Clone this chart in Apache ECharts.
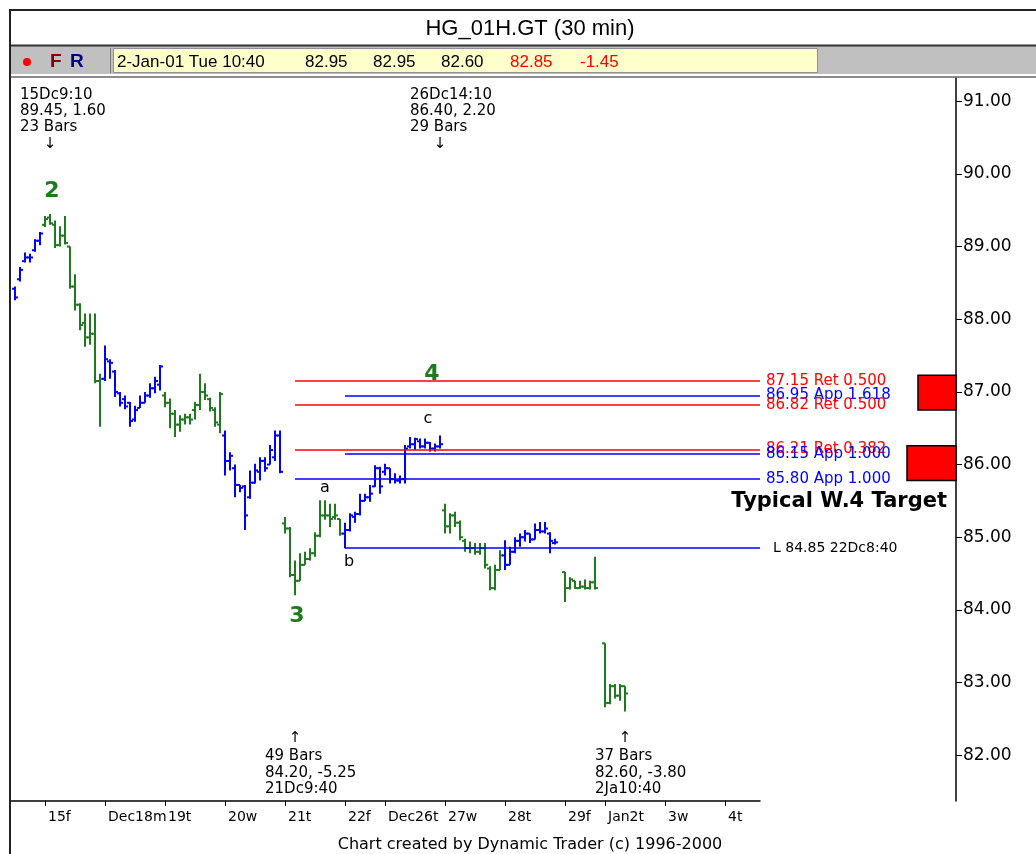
<!DOCTYPE html>
<html>
<head>
<meta charset="utf-8">
<script src="https://cdn.jsdelivr.net/npm/echarts@6/dist/echarts.min.js"></script>
<style>
  html, body { margin: 0; padding: 0; background: #fff; }
  #chart { width: 1036px; height: 854px; }
</style>
</head>
<body>
<div id="chart"></div>
<script>
// x axis: one slot per 30 min bar, ticks at the first bar of each session
const tickSlots = [7, 19, 31, 43, 55, 67, 75, 87, 99, 111, 119, 131, 143];
const tickLabels = ['15f', 'Dec18m', '19t', '20w', '21t', '22f', 'Dec26t', '27w', '28t', '29f', 'Jan2t', '3w', '4t'];

// bars per session: [open, high, low, close]
const dec14 = [[88.42, 88.45, 88.26, 88.30], [88.55, 88.72, 88.52, 88.68], [88.80, 88.92, 88.78, 88.85],
  [88.85, 88.90, 88.78, 88.85], [88.95, 89.10, 88.93, 89.08], [89.08, 89.20, 89.02, 89.18]];
const dec15 = [[89.30, 89.42, 89.27, 89.38], [89.40, 89.45, 89.30, 89.32], [89.30, 89.36, 88.98, 89.02],
  [89.02, 89.28, 89.00, 89.15], [89.15, 89.42, 89.03, 89.05], [89.00, 89.00, 88.42, 88.45],
  [88.45, 88.62, 88.12, 88.20], [88.20, 88.22, 87.85, 87.92], [87.95, 88.08, 87.62, 87.75],
  [87.75, 88.08, 87.65, 87.80], [87.80, 88.08, 87.12, 87.15], [87.15, 87.25, 86.52, 87.18]];
const dec18 = [[87.18, 87.64, 87.15, 87.45], [87.42, 87.45, 87.18, 87.40], [87.28, 87.30, 86.93, 87.00],
  [86.98, 87.00, 86.80, 86.85], [86.90, 86.95, 86.76, 86.80], [86.85, 86.86, 86.52, 86.60],
  [86.62, 86.81, 86.59, 86.75], [86.78, 86.95, 86.78, 86.85], [86.85, 87.00, 86.85, 86.95],
  [86.95, 87.12, 86.92, 87.05], [87.05, 87.21, 86.98, 87.15], [87.10, 87.37, 87.02, 87.35]];
const dec19 = [[86.95, 87.00, 86.79, 86.85], [86.85, 86.91, 86.50, 86.70], [86.70, 86.75, 86.38, 86.55],
  [86.55, 86.68, 86.45, 86.62], [86.62, 86.70, 86.55, 86.65], [86.65, 86.70, 86.55, 86.62],
  [86.75, 86.86, 86.62, 86.82], [86.82, 87.25, 86.75, 87.00], [87.00, 87.12, 86.89, 86.95],
  [86.90, 86.92, 86.73, 86.78], [86.75, 86.79, 86.52, 86.58], [86.55, 87.00, 86.43, 86.97]];
const dec20 = [[86.40, 86.47, 85.85, 86.05], [86.05, 86.17, 85.92, 86.12], [85.95, 86.00, 85.55, 85.72],
  [85.72, 85.72, 85.62, 85.68], [85.70, 85.72, 85.10, 85.30], [85.55, 85.92, 85.53, 85.75],
  [85.75, 86.01, 85.74, 85.92], [85.90, 86.10, 85.78, 86.05], [86.05, 86.10, 85.90, 85.95],
  [86.00, 86.27, 86.00, 86.20], [86.10, 86.47, 86.05, 86.40], [86.40, 86.47, 85.88, 85.90]];
const dec21 = [[85.19, 85.28, 85.05, 85.12], [85.12, 85.14, 84.45, 84.48], [84.48, 84.68, 84.20, 84.40],
  [84.40, 84.78, 84.40, 84.62], [84.62, 84.80, 84.62, 84.70], [84.70, 84.85, 84.68, 84.78],
  [84.78, 85.07, 84.73, 85.02], [85.02, 85.51, 85.00, 85.30], [85.30, 85.51, 85.24, 85.30],
  [85.30, 85.46, 85.14, 85.25], [85.28, 85.46, 85.24, 85.30], [85.25, 85.25, 85.02, 85.05]];
const dec22 = [[85.05, 85.20, 84.85, 85.10], [85.10, 85.33, 85.08, 85.30], [85.28, 85.35, 85.20, 85.32],
  [85.32, 85.60, 85.30, 85.50], [85.50, 85.60, 85.50, 85.55], [85.55, 85.72, 85.49, 85.60],
  [85.70, 85.99, 85.69, 85.95], [85.95, 85.97, 85.60, 85.70]];
const dec26 = [[85.90, 86.01, 85.85, 85.95], [85.95, 85.95, 85.74, 85.80], [85.80, 85.88, 85.74, 85.78],
  [85.78, 85.85, 85.74, 85.80], [85.80, 86.27, 85.74, 86.22], [86.25, 86.38, 86.22, 86.28],
  [86.28, 86.37, 86.20, 86.35], [86.32, 86.36, 86.22, 86.25], [86.25, 86.36, 86.22, 86.30],
  [86.30, 86.31, 86.18, 86.22], [86.22, 86.29, 86.18, 86.25], [86.25, 86.40, 86.22, 86.28]];
const dec27 = [[85.37, 85.46, 85.05, 85.15], [85.15, 85.33, 85.05, 85.30], [85.30, 85.35, 85.14, 85.20],
  [85.20, 85.23, 84.96, 85.00], [84.95, 84.98, 84.80, 84.85], [84.85, 84.94, 84.78, 84.85],
  [84.85, 84.92, 84.76, 84.80], [84.80, 84.92, 84.76, 84.85], [84.85, 84.92, 84.57, 84.62],
  [84.57, 84.60, 84.27, 84.30], [84.30, 84.62, 84.27, 84.55], [84.55, 84.82, 84.55, 84.75]];
const dec28 = [[84.75, 84.96, 84.55, 84.62], [84.62, 84.87, 84.62, 84.80], [84.80, 85.00, 84.78, 84.95],
  [84.95, 85.05, 84.87, 85.00], [85.00, 85.10, 84.94, 85.05], [85.05, 85.05, 84.92, 84.97],
  [84.97, 85.19, 84.97, 85.10], [85.10, 85.21, 85.05, 85.08], [85.08, 85.21, 85.05, 85.12],
  [85.05, 85.07, 84.78, 84.95], [84.92, 84.98, 84.90, 84.93]];
const dec29 = [[84.52, 84.52, 84.11, 84.30], [84.30, 84.45, 84.28, 84.42], [84.40, 84.40, 84.29, 84.30],
  [84.30, 84.40, 84.29, 84.32], [84.32, 84.42, 84.28, 84.30], [84.30, 84.40, 84.28, 84.38],
  [84.38, 84.73, 84.28, 84.30]];
const jan2 = [[83.54, 83.54, 82.66, 82.72], [82.72, 82.98, 82.70, 82.95], [82.95, 82.98, 82.78, 82.82],
  [82.82, 82.98, 82.75, 82.95], [82.95, 82.95, 82.60, 82.85]];

const sessions = [dec14, dec15, dec18, dec19, dec20, dec21, dec22, dec26, dec27, dec28, dec29, jan2];
const sessionStart = [1, 7, 19, 31, 43, 55, 67, 75, 87, 99, 111, 119];

// fibonacci levels
const fibPrices = [87.15, 86.95, 86.82, 86.21, 86.15, 85.80];
const fibNames = ['Ret 0.500', 'App 1.618', 'Ret 0.500', 'Ret 0.382', 'App 1.000', 'App 1.000'];
const fibFrom = [57, 67, 57, 57, 67, 57];
const lowLinePrice = 84.85;
const lowLineFrom = 67;
const lowLineText = 'L 84.85 22Dc8:40';

// target zones (low, high)
const zoneLow = [86.75, 85.78];
const zoneHigh = [87.23, 86.26];

// swing pivots
const pivotSlot = [8, 57, 86, 123];
const pivotPrice = [89.45, 84.20, 86.40, 82.60];
const pivotTime = ['15Dc9:10', '21Dc9:40', '26Dc14:10', '2Ja10:40'];
const pivotChange = ['1.60', '-5.25', '2.20', '-3.80'];
const pivotBars = [23, 49, 29, 37];

const abcNames = ['a', 'b', 'c'];
const abcSlot = [63, 67, 86];
const abcPrice = [85.51, 84.85, 86.40];

// styles
const GREEN = '#1f7a1f', BLUE = '#0000ff', RED = '#ff0000';
const sessionTone = [BLUE, GREEN, BLUE, GREEN, BLUE, GREEN, BLUE, BLUE, GREEN, BLUE, GREEN, GREEN];
const zoneWidth = [38, 49];
const FONT = '"DejaVu Sans", Verdana, sans-serif';
const Y_MIN = 81.37, Y_MAX = 91.32, SLOTS = 151;

function barsFor(tone) {
  const out = [];
  sessions.forEach((bars, s) => {
    if (sessionTone[s] !== tone) return;
    bars.forEach((b, k) => out.push([sessionStart[s] + k, ...b]));
  });
  return out;
}

function renderBar(params, api) {
  const hi = api.coord([api.value(0), api.value(2)]);
  const lo = api.coord([api.value(0), api.value(3)]);
  const o = api.coord([api.value(0), api.value(1)])[1];
  const c = api.coord([api.value(0), api.value(4)])[1];
  const style = {stroke: api.visual('color'), lineWidth: 2};
  return {
    type: 'group',
    children: [
      {type: 'line', shape: {x1: hi[0], y1: hi[1], x2: lo[0], y2: lo[1]}, style},
      {type: 'line', shape: {x1: hi[0] - 3, y1: o, x2: hi[0], y2: o}, style},
      {type: 'line', shape: {x1: hi[0], y1: c, x2: hi[0] + 3, y2: c}, style}
    ]
  };
}

function barSeries(tone) {
  return {
    type: 'custom',
    xAxisIndex: 0,
    yAxisIndex: 0,
    renderItem: renderBar,
    itemStyle: {color: tone},
    encode: {x: 0, y: [1, 2, 3, 4]},
    data: barsFor(tone),
    silent: true
  };
}

const fibLines = fibPrices.map((p, k) => {
  const tone = fibNames[k].startsWith('Ret') ? RED : BLUE;
  return [
    {coord: [fibFrom[k], p], lineStyle: {color: tone},
      label: {color: tone, formatter: p.toFixed(2) + ' ' + fibNames[k]}},
    {coord: [SLOTS - 1, p]}
  ];
});
fibLines.push([
  {coord: [lowLineFrom, lowLinePrice], lineStyle: {color: BLUE},
    label: {color: '#000', formatter: lowLineText, distance: 13, fontSize: 14}},
  {coord: [SLOTS - 1, lowLinePrice]}
]);

const chart = echarts.init(document.getElementById('chart'));
chart.setOption({
  animation: false,
  backgroundColor: '#fff',
  grid: [
    {left: 10, top: 78, width: 750, height: 723},
    {left: 10, top: 78, right: 80, height: 723}
  ],
  xAxis: [
    {
      type: 'category',
      gridIndex: 0,
      data: Array.from({length: SLOTS}, (_, i) => String(i)),
      boundaryGap: false,
      axisLine: {onZero: false, lineStyle: {color: '#000', width: 1.5}},
      axisTick: {interval: (i) => tickSlots.includes(i), length: 5, lineStyle: {color: '#000'}},
      axisLabel: {
        interval: (i) => tickSlots.includes(i),
        formatter: (v) => tickLabels[tickSlots.indexOf(Number(v))] || '',
        align: 'left',
        padding: [0, 0, 0, 3],
        margin: 9,
        color: '#000',
        fontFamily: FONT,
        fontSize: 14
      },
      splitLine: {show: false}
    },
    {type: 'value', gridIndex: 1, min: 0, max: 1, show: false}
  ],
  yAxis: [
    {type: 'value', gridIndex: 0, min: Y_MIN, max: Y_MAX, show: false},
    {
      type: 'value',
      gridIndex: 1,
      position: 'right',
      min: Y_MIN,
      max: Y_MAX,
      splitNumber: 10,
      axisLine: {show: true, onZero: false, lineStyle: {color: '#000', width: 1.5}},
      axisTick: {show: true, length: 6, lineStyle: {color: '#000'}},
      axisLabel: {
        showMinLabel: false,
        showMaxLabel: false,
        margin: 7,
        color: '#000',
        fontFamily: FONT,
        fontSize: 17,
        formatter: (v) => v.toFixed(2)
      },
      splitLine: {show: false}
    }
  ],
  series: [
    barSeries(GREEN),
    barSeries(BLUE),
    {
      type: 'line',
      xAxisIndex: 0,
      yAxisIndex: 0,
      data: [],
      markLine: {
        silent: true,
        symbol: ['none', 'none'],
        lineStyle: {type: 'solid', width: 1.5},
        label: {position: 'end', distance: 6, fontFamily: FONT, fontSize: 15},
        emphasis: {disabled: true},
        data: fibLines
      }
    },
    {
      type: 'custom',
      xAxisIndex: 1,
      yAxisIndex: 1,
      silent: true,
      encode: {x: 0, y: [1, 2]},
      data: zoneLow.map((lo, k) => [1, lo, zoneHigh[k]]),
      renderItem: (params, api) => {
        const k = params.dataIndex;
        const top = api.coord([1, api.value(2)]);
        const bot = api.coord([1, api.value(1)]);
        return {
          type: 'rect',
          shape: {x: top[0] - zoneWidth[k], y: top[1], width: zoneWidth[k], height: bot[1] - top[1]},
          style: {fill: RED, stroke: '#000', lineWidth: 1.5}
        };
      }
    }
  ]
});

// header, footer and swing annotations
const px = (slot, price) => chart.convertToPixel({xAxisIndex: 0, yAxisIndex: 0}, [slot, price]);
const txt = (x, y, text, font, fill, align, vAlign, lineHeight) => ({
  type: 'text', x, y, silent: true, z: 50,
  style: {text, font, fill: fill || '#000', align: align || 'left', textAlign: align || 'left',
    verticalAlign: vAlign || 'middle', textVerticalAlign: vAlign || 'middle', lineHeight}
});

const g = [
  {type: 'rect', z: 40, shape: {x: 11, y: 46, width: 1030, height: 28}, style: {fill: '#c0c0c0'}},
  {type: 'line', z: 41, shape: {x1: 10, y1: 45.5, x2: 1036, y2: 45.5}, style: {stroke: '#333', lineWidth: 2}},
  {type: 'line', z: 41, shape: {x1: 10, y1: 74.5, x2: 1036, y2: 74.5}, style: {stroke: '#fff', lineWidth: 1}},
  {type: 'line', z: 41, shape: {x1: 10, y1: 77, x2: 1036, y2: 77}, style: {stroke: '#666', lineWidth: 1.5}},
  {type: 'line', z: 41, shape: {x1: 110.5, y1: 48, x2: 110.5, y2: 73}, style: {stroke: '#808080', lineWidth: 1}},
  {type: 'rect', z: 41, shape: {x: 113.5, y: 48.5, width: 704, height: 24}, style: {fill: '#ffffcc', stroke: '#909090', lineWidth: 1}},
  {type: 'circle', z: 42, shape: {cx: 27, cy: 62, r: 4}, style: {fill: RED}},
  {type: 'rect', z: 45, shape: {x: 10, y: 10, width: 1040, height: 860}, style: {fill: 'none', stroke: '#222', lineWidth: 2}},
  txt(50, 62, 'F', 'bold 19px "Liberation Sans", Arial, sans-serif', '#800000'),
  txt(70, 62, 'R', 'bold 19px "Liberation Sans", Arial, sans-serif', '#000080'),
  txt(530, 29, 'HG_01H.GT (30 min)', '22px "Liberation Sans", Arial, sans-serif', '#000', 'center'),
  txt(117, 62, '2-Jan-01 Tue 10:40', '17px "Liberation Sans", Arial, sans-serif'),
  txt(305, 62, '82.95', '17px "Liberation Sans", Arial, sans-serif'),
  txt(373, 62, '82.95', '17px "Liberation Sans", Arial, sans-serif'),
  txt(441, 62, '82.60', '17px "Liberation Sans", Arial, sans-serif'),
  txt(510, 62, '82.85', '17px "Liberation Sans", Arial, sans-serif', RED),
  txt(580, 62, '-1.45', '17px "Liberation Sans", Arial, sans-serif', RED),
  txt(530, 845, 'Chart created by Dynamic Trader (c) 1996-2000', '16px ' + FONT, '#000', 'center')
];

const annFont = '15px ' + FONT;
pivotSlot.forEach((slot, k) => {
  const p = px(slot, pivotPrice[k]);
  const isHigh = k === 0 || pivotPrice[k] > pivotPrice[k - 1];
  const info = [pivotTime[k], pivotPrice[k].toFixed(2) + ', ' + pivotChange[k], pivotBars[k] + ' Bars'];
  if (isHigh) {
    g.push(txt(p[0] - 30, 87, info.join('\n'), annFont, '#000', 'left', 'top', 16));
    g.push(txt(p[0], 144, '\u2193', annFont, '#000', 'center'));
  } else {
    g.push(txt(p[0], 738, '\u2191', annFont, '#000', 'center'));
    g.push(txt(p[0] - 30, 748, info.reverse().join('\n'), annFont, '#000', 'left', 'top', 16.5));
  }
});

// elliott wave labels
const waveFont = 'bold 22px ' + FONT;
const w2 = px(pivotSlot[0], pivotPrice[0]);
const w3 = px(pivotSlot[1], pivotPrice[1]);
const w4 = px(pivotSlot[2], fibPrices[0]);
g.push(txt(w2[0] + 2, w2[1] - 23, '2', waveFont, GREEN, 'center'));
g.push(txt(w3[0] + 2, w3[1] + 21, '3', waveFont, GREEN, 'center'));
g.push(txt(w4[0] - 8, w4[1] - 7, '4', waveFont, GREEN, 'center'));

const abcOffset = [[0, -12], [4, 14], [-12, -17]];
abcNames.forEach((name, k) => {
  const p = px(abcSlot[k], abcPrice[k]);
  g.push(txt(p[0] + abcOffset[k][0], p[1] + abcOffset[k][1], name, '16px ' + FONT, '#000', 'center'));
});

const zb = chart.convertToPixel({xAxisIndex: 1, yAxisIndex: 1}, [1, zoneLow[1]]);
g.push(txt(zb[0] - 9, zb[1] + 21, 'Typical W.4 Target', 'bold 21px ' + FONT, '#000', 'right'));

chart.setOption({graphic: g});
</script>
</body>
</html>
